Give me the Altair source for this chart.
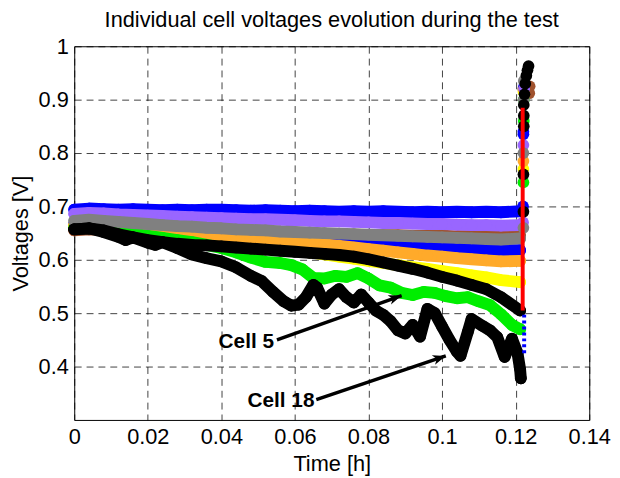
import math
import altair as alt
import pandas as pd

# ---------------- data ----------------
TITLE = "Individual cell voltages evolution during the test"
X_TITLE = "Time [h]"
Y_TITLE = "Voltages [V]"
X_TICKS = [0, 0.02, 0.04, 0.06, 0.08, 0.1, 0.12, 0.14]
Y_TICKS = [0.4, 0.5, 0.6, 0.7, 0.8, 0.9, 1.0]

XF = [0.0, 0.004, 0.008, 0.012, 0.016, 0.02, 0.024, 0.028, 0.032, 0.036, 0.04,
      0.044, 0.048, 0.052, 0.056, 0.06, 0.064, 0.068, 0.072, 0.076, 0.08, 0.084,
      0.088, 0.092, 0.096, 0.1, 0.104, 0.108, 0.112, 0.116, 0.1212]

BLUE1_Y = [0.694, 0.696, 0.695, 0.694, 0.695, 0.694, 0.693, 0.694, 0.693, 0.694, 0.694,
           0.693, 0.692, 0.693, 0.692, 0.691, 0.692, 0.691, 0.690, 0.691, 0.690, 0.691,
           0.690, 0.689, 0.690, 0.689, 0.690, 0.689, 0.690, 0.689, 0.691]
BLUE1_JX = [0.1220, 0.1221, 0.1223]
BLUE1_JY = [0.700, 0.835, 0.925]

PURPLE_Y = [0.686, 0.688, 0.687, 0.685, 0.684, 0.683, 0.682, 0.681, 0.680, 0.679, 0.678,
            0.677, 0.676, 0.676, 0.675, 0.674, 0.673, 0.672, 0.672, 0.671, 0.670, 0.669,
            0.669, 0.668, 0.667, 0.667, 0.666, 0.665, 0.665, 0.664, 0.665]
PURPLE_JX = [0.1220, 0.1221, 0.1223]
PURPLE_JY = [0.670, 0.815, 0.920]

GRAY_Y = [0.673, 0.675, 0.673, 0.671, 0.669, 0.667, 0.665, 0.663, 0.662, 0.660, 0.659,
          0.657, 0.656, 0.655, 0.653, 0.652, 0.651, 0.650, 0.649, 0.648, 0.647, 0.646,
          0.645, 0.644, 0.643, 0.642, 0.641, 0.640, 0.639, 0.638, 0.640]
GRAY_JX = [0.1221, 0.1221, 0.1222, 0.1222]
GRAY_JY = [0.660, 0.800, 0.900, 0.935]

BROWN_Y = [0.655, 0.657, 0.656, 0.655, 0.654, 0.653, 0.653, 0.652, 0.652, 0.651, 0.651,
           0.650, 0.650, 0.649, 0.649, 0.648, 0.648, 0.647, 0.647, 0.647, 0.646, 0.646,
           0.646, 0.645, 0.645, 0.645, 0.644, 0.644, 0.644, 0.643, 0.645]
BROWN_JX = [0.1237, 0.1238]
BROWN_JY = [0.912, 0.925]

BLUE2_Y = [0.667, 0.669, 0.667, 0.664, 0.662, 0.660, 0.658, 0.656, 0.654, 0.652, 0.650,
           0.648, 0.646, 0.644, 0.642, 0.640, 0.638, 0.636, 0.634, 0.632, 0.630, 0.628,
           0.627, 0.625, 0.624, 0.622, 0.621, 0.620, 0.619, 0.618, 0.618]
BLUE2_JX = [0.1221, 0.1221]
BLUE2_JY = [0.840, 0.920]

ORANGE_Y = [0.665, 0.667, 0.665, 0.662, 0.659, 0.656, 0.653, 0.651, 0.649, 0.647, 0.645,
            0.643, 0.641, 0.639, 0.637, 0.634, 0.632, 0.629, 0.626, 0.623, 0.620, 0.617,
            0.614, 0.611, 0.608, 0.606, 0.603, 0.601, 0.599, 0.597, 0.598]
ORANGE_JX = [0.1221, 0.1221]
ORANGE_JY = [0.785, 0.920]

YELLOW_Y = [0.664, 0.666, 0.663, 0.660, 0.657, 0.654, 0.651, 0.648, 0.645, 0.642, 0.638,
            0.634, 0.630, 0.626, 0.622, 0.618, 0.614, 0.610, 0.606, 0.602, 0.598, 0.594,
            0.590, 0.586, 0.583, 0.579, 0.575, 0.571, 0.567, 0.562, 0.558]
YELLOW_JX = [0.1221, 0.1221]
YELLOW_JY = [0.770, 0.915]

GREEN_X = [0.0, 0.004, 0.008, 0.012, 0.016, 0.02, 0.024, 0.028, 0.032, 0.036, 0.04,
           0.044, 0.048, 0.052, 0.056, 0.059, 0.062, 0.065, 0.068, 0.071, 0.074, 0.077,
           0.080, 0.083, 0.086, 0.089, 0.092, 0.095, 0.098, 0.101, 0.104, 0.107, 0.110,
           0.113, 0.116, 0.119, 0.1212]
GREEN_Y = [0.660, 0.662, 0.658, 0.653, 0.649, 0.645, 0.641, 0.637, 0.633, 0.628, 0.622,
           0.614, 0.604, 0.596, 0.594, 0.590, 0.582, 0.566, 0.565, 0.570, 0.568, 0.575,
           0.565, 0.552, 0.548, 0.538, 0.534, 0.540, 0.538, 0.532, 0.528, 0.530, 0.522,
           0.515, 0.498, 0.478, 0.470]
GREEN_JX = [0.1221, 0.1222, 0.1222]
GREEN_JY = [0.745, 0.860, 0.900]

BLACK_UP_Y = [0.657, 0.659, 0.655, 0.648, 0.642, 0.637, 0.633, 0.630, 0.628, 0.627, 0.625,
              0.623, 0.621, 0.619, 0.617, 0.615, 0.613, 0.611, 0.609, 0.606, 0.601, 0.595,
              0.589, 0.583, 0.576, 0.568, 0.561, 0.553, 0.545, 0.530, 0.505]
BLACK_UP_JX = [0.1221, 0.1221, 0.1222, 0.1222, 0.1222, 0.1224, 0.1226, 0.1229, 0.1232, 0.1235]
BLACK_UP_JY = [0.690, 0.760, 0.850, 0.870, 0.890, 0.910, 0.930, 0.945, 0.955, 0.963]

CELL18_X = [0.0, 0.004, 0.008, 0.012, 0.014, 0.016, 0.02, 0.022, 0.024, 0.028, 0.032,
            0.036, 0.04, 0.044, 0.048, 0.051, 0.054, 0.057, 0.059, 0.061, 0.063, 0.065,
            0.066, 0.068, 0.07, 0.072, 0.074, 0.076, 0.078, 0.080, 0.082, 0.084, 0.086,
            0.088, 0.090, 0.092, 0.094, 0.096, 0.098, 0.100, 0.102, 0.104, 0.105, 0.107,
            0.108, 0.111, 0.113, 0.115, 0.117, 0.119, 0.1205, 0.1212, 0.1214]
CELL18_Y = [0.657, 0.659, 0.652, 0.643, 0.637, 0.642, 0.632, 0.628, 0.633, 0.622, 0.610,
            0.603, 0.597, 0.586, 0.570, 0.560, 0.540, 0.522, 0.514, 0.516, 0.530, 0.553,
            0.548, 0.518, 0.535, 0.545, 0.530, 0.520, 0.535, 0.520, 0.505, 0.497, 0.485,
            0.468, 0.462, 0.478, 0.456, 0.508, 0.500, 0.475, 0.450, 0.428, 0.420, 0.465,
            0.489, 0.476, 0.468, 0.455, 0.418, 0.452, 0.425, 0.395, 0.378]

RED_X = [0.1219, 0.1219]
RED_Y = [0.505, 0.885]

BLUE3_X = [0.1223, 0.1223]
BLUE3_Y = [0.425, 0.500]

# annotations
ANN_TEXT = ["Cell 5", "Cell 18"]
ANN_TX = [0.0543, 0.0653]
ANN_TY = [0.446, 0.335]
ARR_X1 = [0.0551, 0.0658]
ARR_Y1 = [0.450, 0.338]
ARR_X2 = [0.0890, 0.1010]
ARR_Y2 = [0.533, 0.420]

# ---------------- chart ----------------
W, H = 521, 378
XMIN, XMAX, YMIN, YMAX = 0.0, 0.14, 0.3, 1.0
FONT = "Liberation Sans"

xs = alt.Scale(domain=[XMIN, XMAX], nice=False, zero=False)
ys = alt.Scale(domain=[YMIN, YMAX], nice=False, zero=False)
grid_kw = dict(gridColor="black", gridOpacity=0.75, gridDash=[7, 5], gridWidth=1,
               ticks=False, domain=False, labelOverlap=False, labelFlush=False)
X = alt.X("x:Q", scale=xs, axis=alt.Axis(values=X_TICKS, format="~g", title=X_TITLE,
                                         labelPadding=7, titlePadding=6, **grid_kw))
Y = alt.Y("y:Q", scale=ys, axis=alt.Axis(values=Y_TICKS, format="~g", title=Y_TITLE,
                                         labelPadding=6, titlePadding=6, **grid_kw))

SERIES = [
    ("#a0522d", XF, BROWN_Y, BROWN_JX, BROWN_JY),
    ("#0000ff", XF, BLUE2_Y, BLUE2_JX, BLUE2_JY),
    ("#ffff00", XF, YELLOW_Y, YELLOW_JX, YELLOW_JY),
    ("#ffaa2a", XF, ORANGE_Y, ORANGE_JX, ORANGE_JY),
    ("#00ee00", GREEN_X, GREEN_Y, GREEN_JX, GREEN_JY),
    ("#0000ff", XF, BLUE1_Y, BLUE1_JX, BLUE1_JY),
    ("#9966ff", XF, PURPLE_Y, PURPLE_JX, PURPLE_JY),
    ("#808080", XF, GRAY_Y, GRAY_JX, GRAY_JY),
    ("#000000", XF, BLACK_UP_Y, BLACK_UP_JX, BLACK_UP_JY),
    ("#000000", CELL18_X, CELL18_Y, [], []),
]

layers = []
for color, sx, sy, jx, jy in SERIES:
    main = pd.DataFrame({"x": sx, "y": sy})
    pts = pd.DataFrame({"x": list(sx) + list(jx), "y": list(sy) + list(jy)})
    layers.append(alt.Chart(main).mark_line(color=color, strokeWidth=12, strokeCap="round",
                                            strokeJoin="round").encode(x=X, y=Y))
    layers.append(alt.Chart(pts).mark_circle(color=color, size=140, opacity=1).encode(x=X, y=Y))

layers.append(alt.Chart(pd.DataFrame({"x": BLUE3_X, "y": BLUE3_Y})).mark_line(
    color="#0000ff", strokeWidth=4, strokeDash=[3, 3]).encode(x=X, y=Y))
layers.append(alt.Chart(pd.DataFrame({"x": RED_X, "y": RED_Y})).mark_line(
    color="#ff0000", strokeWidth=4).encode(x=X, y=Y))

# annotation arrows
ang = []
for x1, y1, x2, y2 in zip(ARR_X1, ARR_Y1, ARR_X2, ARR_Y2):
    dx = (x2 - x1) / (XMAX - XMIN) * W
    dy = -(y2 - y1) / (YMAX - YMIN) * H
    ang.append(math.degrees(math.atan2(dy, dx)) % 360)
arr = pd.DataFrame({"x": ARR_X1, "y": ARR_Y1, "x2": ARR_X2, "y2": ARR_Y2, "ang": ang})
layers.append(alt.Chart(arr).mark_rule(color="black", strokeWidth=3.5).encode(
    x=X, y=Y, x2="x2:Q", y2="y2:Q"))
layers.append(alt.Chart(arr).mark_point(
    shape="M0,0 L-1,-0.38 L-0.72,0 L-1,0.38 Z", filled=True, color="black", opacity=1,
    size=700).encode(x=alt.X("x2:Q", scale=xs), y=alt.Y("y2:Q", scale=ys),
                     angle=alt.Angle("ang:Q", scale=None)))
ann = pd.DataFrame({"x": ANN_TX, "y": ANN_TY, "t": ANN_TEXT})
layers.append(alt.Chart(ann).mark_text(align="right", baseline="middle", fontSize=21,
                                       fontWeight="bold", font=FONT, color="black").encode(
    x=X, y=Y, text="t:N"))

chart = alt.layer(*layers).properties(
    width=W, height=H,
    title=alt.TitleParams(TITLE, fontSize=22, fontWeight="normal", font=FONT, color="black",
                          anchor="middle", frame="group", offset=3),
    autosize=alt.AutoSizeParams(type="none"),
    padding={"left": 67, "top": 36, "right": 23, "bottom": 54},
).configure_view(stroke="black", strokeWidth=1).configure_axis(
    labelFont=FONT, titleFont=FONT, labelFontSize=22, titleFontSize=22,
    labelColor="black", titleColor="black", titleFontWeight="normal")

chart.save("out.html", embed_options={"renderer": "svg", "actions": False})
